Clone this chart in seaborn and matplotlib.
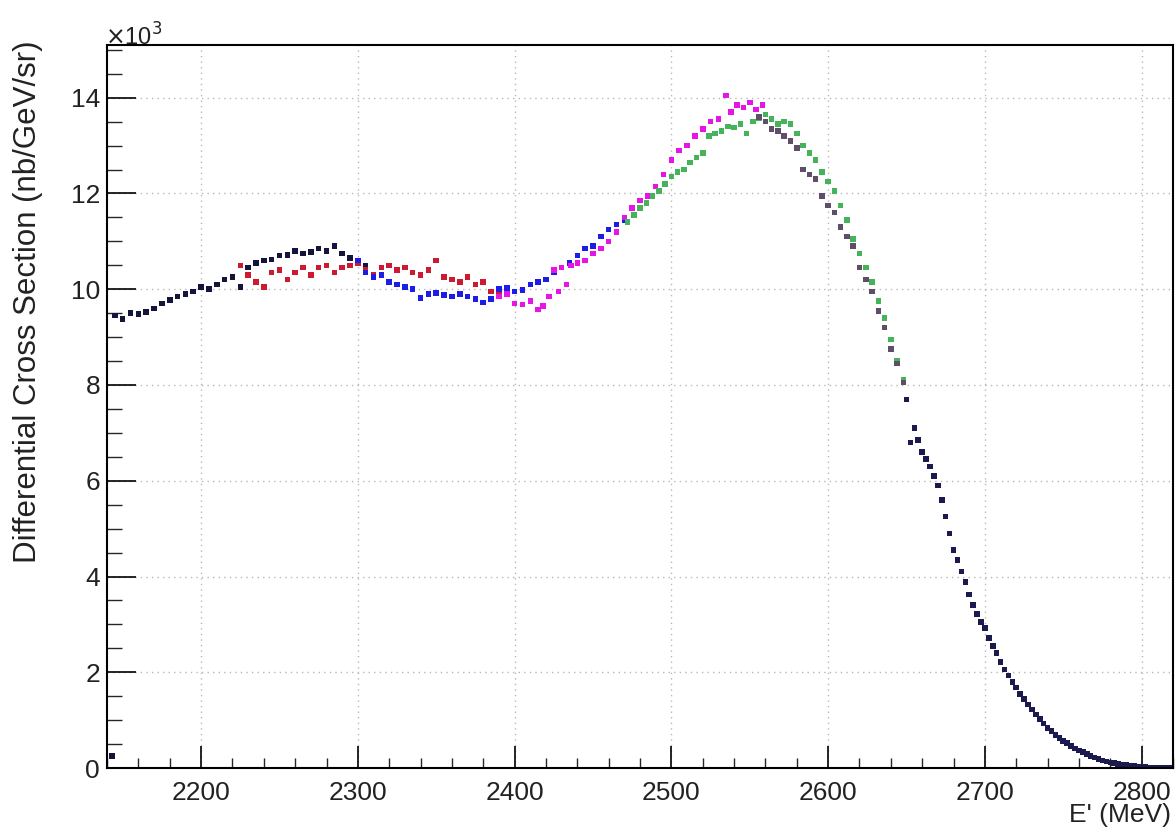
import matplotlib
matplotlib.use("Agg")
import matplotlib.pyplot as plt
import seaborn as sns
import pandas as pd
from matplotlib.ticker import MultipleLocator, FixedLocator

sns.set_style("white")
plt.rcParams['font.family'] = ['Liberation Sans', 'DejaVu Sans']

# ---------------- data (E' in MeV, cross section in 10^3 nb/GeV/sr) ----------------
black_E = [2143, 2145, 2150, 2155, 2160, 2165, 2170, 2175, 2180, 2185, 2190, 2195, 2200,
           2205, 2210, 2215, 2220, 2225, 2230, 2235, 2240, 2245, 2250, 2255, 2260, 2265,
           2270, 2275, 2280, 2285, 2290, 2295, 2300, 2305]
black_xs = [0.25, 9.45, 9.38, 9.5, 9.48, 9.52, 9.6, 9.7, 9.78, 9.85, 9.9, 9.95, 10.05,
            10.0, 10.1, 10.2, 10.25, 10.05, 10.45, 10.55, 10.6, 10.62, 10.7, 10.72, 10.8, 10.75,
            10.78, 10.85, 10.8, 10.9, 10.75, 10.65, 10.55, 10.5]

red_E = [2225, 2230, 2235, 2240, 2245, 2250, 2255, 2260, 2265, 2270, 2275, 2280, 2285,
         2290, 2295, 2300, 2305, 2310, 2315, 2320, 2325, 2330, 2335, 2340, 2345, 2350,
         2355, 2360, 2365, 2370, 2375, 2380, 2385, 2390]
red_xs = [10.5, 10.3, 10.15, 10.05, 10.35, 10.4, 10.2, 10.35, 10.45, 10.3, 10.45, 10.5, 10.35,
          10.45, 10.5, 10.55, 10.4, 10.3, 10.45, 10.5, 10.4, 10.45, 10.35, 10.3, 10.4, 10.6,
          10.25, 10.2, 10.15, 10.25, 10.1, 10.15, 9.95, 9.9]

blue_E = [2300, 2305, 2310, 2315, 2320, 2325, 2330, 2335, 2340, 2345, 2350, 2355, 2360,
          2365, 2370, 2375, 2380, 2385, 2390, 2395, 2400, 2405, 2410, 2415, 2420, 2425,
          2430, 2435, 2440, 2445, 2450, 2455, 2460, 2465, 2470]
blue_xs = [10.6, 10.35, 10.25, 10.3, 10.15, 10.1, 10.05, 10.0, 9.82, 9.9, 9.92, 9.88, 9.85,
           9.9, 9.85, 9.8, 9.72, 9.8, 10.0, 10.02, 9.95, 9.98, 10.1, 10.15, 10.2, 10.35,
           10.45, 10.55, 10.7, 10.85, 10.9, 11.1, 11.25, 11.35, 11.45]

magenta_E = [2390, 2395, 2400, 2405, 2410, 2415, 2418, 2422, 2425, 2428, 2430, 2433, 2436,
             2440, 2445, 2450, 2455, 2460, 2465, 2470, 2475, 2480, 2485, 2490, 2495, 2500,
             2505, 2510, 2515, 2520, 2525, 2530, 2535, 2538, 2542, 2546, 2550, 2554, 2558]
magenta_xs = [9.85, 9.9, 9.7, 9.68, 9.75, 9.58, 9.65, 9.85, 10.4, 9.95, 10.45, 10.1, 10.5,
              10.55, 10.6, 10.75, 10.85, 11.0, 11.2, 11.5, 11.7, 11.85, 11.95, 12.15, 12.4, 12.7,
              12.9, 13.0, 13.2, 13.35, 13.5, 13.55, 14.05, 13.7, 13.85, 13.8, 13.9, 13.75, 13.85]

green_E = [2472, 2476, 2480, 2484, 2488, 2492, 2496, 2500, 2504, 2508, 2512, 2516, 2520,
           2524, 2528, 2532, 2536, 2540, 2544, 2548, 2552, 2556, 2560, 2564, 2568, 2572,
           2576, 2580, 2584, 2588, 2592, 2596, 2600, 2604, 2608, 2612, 2616, 2620, 2624,
           2628, 2632, 2636, 2640, 2644, 2648]
green_xs = [11.4, 11.55, 11.7, 11.8, 11.95, 12.05, 12.2, 12.35, 12.45, 12.5, 12.65, 12.75, 12.85,
            13.2, 13.25, 13.3, 13.4, 13.38, 13.45, 13.25, 13.5, 13.58, 13.65, 13.55, 13.45, 13.5,
            13.45, 13.25, 13.0, 12.85, 12.7, 12.45, 12.25, 12.05, 11.75, 11.45, 11.05, 10.75, 10.45,
            10.15, 9.75, 9.4, 8.95, 8.5, 8.1]

dark_E = [2556, 2560, 2564, 2568, 2572, 2576, 2580, 2584, 2588, 2592, 2596, 2600, 2604,
          2608, 2612, 2616, 2620, 2624, 2628, 2632, 2636, 2640, 2644, 2648]
dark_xs = [13.6, 13.5, 13.35, 13.3, 13.2, 13.1, 12.95, 12.5, 12.4, 12.3, 11.95, 11.75, 11.6,
           11.3, 11.1, 10.9, 10.45, 10.2, 9.95, 9.55, 9.2, 8.75, 8.45, 8.05]

tail_E = [2650.0, 2652.5, 2655.0, 2657.5, 2660.0, 2662.5, 2665.0, 2667.5, 2670.0, 2672.5,
          2675.0, 2677.5, 2680.0, 2682.5, 2685.0, 2687.5, 2690.0, 2692.5, 2695.0, 2697.5,
          2700.0, 2702.5, 2705.0, 2707.5, 2710.0, 2712.5, 2715.0, 2717.5, 2720.0, 2722.5,
          2725.0, 2727.5, 2730.0, 2732.5, 2735.0, 2737.5, 2740.0, 2742.5, 2745.0, 2747.5,
          2750.0, 2752.5, 2755.0, 2757.5, 2760.0, 2762.5, 2765.0, 2767.5, 2770.0, 2772.5,
          2775.0, 2777.5, 2780.0, 2782.5, 2785.0, 2787.5, 2790.0, 2792.5, 2795.0, 2797.5,
          2800.0, 2802.5, 2805.0, 2807.5, 2810.0, 2812.5, 2815.0, 2817.5, 2820.0]
tail_xs = [7.7, 6.8, 7.1, 6.85, 6.6, 6.45, 6.3, 6.1, 5.9, 5.6,
           5.25, 4.9, 4.55, 4.35, 4.1, 3.88, 3.62, 3.4, 3.22, 3.05,
           2.92, 2.72, 2.55, 2.4, 2.22, 2.06, 1.93, 1.8, 1.68, 1.55,
           1.44, 1.33, 1.22, 1.12, 1.02, 0.93, 0.84, 0.77, 0.69, 0.63,
           0.57, 0.52, 0.46, 0.41, 0.37, 0.33, 0.29, 0.25, 0.22, 0.19,
           0.16, 0.14, 0.12, 0.1, 0.085, 0.07, 0.06, 0.05, 0.04, 0.03,
           0.025, 0.02, 0.015, 0.01, 0.008, 0.005, 0.003, 0.002, 0.001]

series = [("black", black_E, black_xs), ("red", red_E, red_xs), ("blue", blue_E, blue_xs),
          ("magenta", magenta_E, magenta_xs), ("green", green_E, green_xs),
          ("dark", dark_E, dark_xs), ("tail", tail_E, tail_xs)]
palette = {"black": "#14143c", "red": "#cc1a32", "blue": "#1c1ce6", "magenta": "#e614e6",
           "green": "#45b35a", "dark": "#5e4e68", "tail": "#1a1a4e"}

df = pd.concat([pd.DataFrame({"E": e, "xs": v, "set": n}) for n, e, v in series],
               ignore_index=True)

x_major = [2200, 2300, 2400, 2500, 2600, 2700, 2800]
y_major = [0, 2, 4, 6, 8, 10, 12, 14]

# ---------------- figure ----------------
fig = plt.figure(figsize=(11.75, 8.34), dpi=100)
ax = fig.add_axes([0.0911, 0.0791, 0.9072, 0.8669])

sns.scatterplot(data=df, x="E", y="xs", hue="set", palette=palette, marker="s",
                s=16, linewidth=0, legend=False, ax=ax)

ax.set_xlim(2140, 2820)
ax.set_ylim(0, 15.1)
ax.xaxis.set_major_locator(FixedLocator(x_major))
ax.yaxis.set_major_locator(FixedLocator(y_major))
ax.xaxis.set_minor_locator(MultipleLocator(20))
ax.yaxis.set_minor_locator(MultipleLocator(0.5))
ax.set_xticklabels([str(v) for v in x_major])
ax.set_yticklabels([str(v) for v in y_major])
ax.set_xlabel("")
ax.set_ylabel("")

ax.grid(True, which="major", linestyle=(0, (1, 3)), color="#b8b8b8", linewidth=1.0)
ax.set_axisbelow(True)

for sp in ax.spines.values():
    sp.set_color("black")
    sp.set_linewidth(1.5)

ax.tick_params(axis="x", which="major", direction="in", length=16, width=1.2,
               labelsize=19, pad=9, colors="black", top=False, bottom=True)
ax.tick_params(axis="x", which="minor", direction="in", length=7.5, width=1.0,
               top=False, bottom=True)
ax.tick_params(axis="y", which="major", direction="in", length=21, width=1.2,
               labelsize=19, pad=5, colors="black", right=False, left=True)
ax.tick_params(axis="y", which="minor", direction="in", length=11, width=1.0,
               right=False, left=True)
for lbl in ax.get_xticklabels() + ax.get_yticklabels():
    lbl.set_color("#222222")

fig.text(105 / 1175, 1 - 46 / 834, r"$\times$10$^{3}$", fontsize=17, ha="left",
         va="baseline", color="#222222")
fig.text(1171 / 1175, 1 - 815 / 834, "E' (MeV)", fontsize=19, ha="right", va="center",
         color="#222222")
fig.text(28 / 1175, 1 - 40 / 834, "Differential Cross Section (nb/GeV/sr)", fontsize=22.5,
         rotation=90, ha="center", va="top", color="#222222")

fig.savefig("out.png", dpi=100, facecolor="white")
